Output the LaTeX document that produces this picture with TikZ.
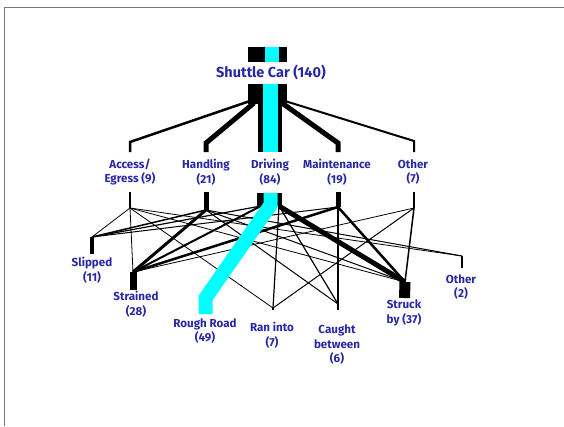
\documentclass[tikz,border=0pt]{standalone}
\usepackage{fontspec}
\setsansfont{Fira Sans}
\usepackage{tikz}

\definecolor{labelblue}{RGB}{40,40,165}
\definecolor{framegray}{RGB}{120,120,120}
\definecolor{roadcyan}{RGB}{0,255,255}
\tikzset{
  lbl/.style={text=labelblue, font=\sffamily\bfseries\fontsize{11.6}{14.5}\selectfont, align=center, inner sep=0pt},
  lnk/.style={line width=#1, line cap=butt, line join=miter},
}

\begin{document}
\begin{tikzpicture}[x=1pt,y=-1pt]
  \useasboundingbox (0,0) rectangle (564,426);
  \draw[framegray, line width=1.5] (4.5,426) -- (4.5,7.5) -- (564,7.5);

  % top node
  \fill      (248,47) rectangle (287,62);
  \fill[roadcyan] (265,47) rectangle (279,62);
  \node[lbl, font=\sffamily\bfseries\fontsize{14.5}{17}\selectfont] (shuttle) at (271,72) {Shuttle Car (140)};
  \fill      (248,84) rectangle (287,104);
  \fill      (258,104) rectangle (282,152);
  \fill[roadcyan] (263,84) rectangle (278,152);
  \coordinate (barL) at (250,101);
  \coordinate (barR) at (285,101);

  % categories
  \coordinate (accU) at (130,152);  \coordinate (accD) at (130,208);
  \coordinate (hanU) at (206,152);  \coordinate (hanD) at (206,210);
  \coordinate (mntU) at (338,152);  \coordinate (mntD) at (338,207);
  \coordinate (othU) at (414,152);  \coordinate (othD) at (414,208);
  \coordinate (drvL) at (261,206);  \coordinate (drvR) at (279,206);

  \draw[lnk=2.5] (barL) -- (130,142) -- (accU);
  \draw[lnk=5]   (254,103) -- (206,143) -- (hanU);
  \draw[lnk=5]   (282,103) -- (338,143) -- (mntU);
  \draw[lnk=2]   (barR) -- (414,141) -- (othU);

  \node[lbl] (access) at (130,172) {Access/\\Egress (9)};
  \node[lbl] (handling) at (206,172) {Handling\\(21)};
  \node[lbl] (driving) at (270,172) {Driving\\(84)};
  \node[lbl] (maint) at (337,172) {Maintenance\\(19)};
  \node[lbl] (other) at (413,172) {Other\\(7)};

  \draw[lnk=2.5] (130,192) -- (accD);
  \draw[lnk=5]   (206,192) -- (hanD);
  \draw[lnk=5]   (338,192) -- (mntD);
  \draw[lnk=1.5] (414,192) -- (othD);
  \fill (257,193) rectangle (282,206);

  % outcomes
  \coordinate (slp) at (92,237);
  \coordinate (str) at (133,272);
  \coordinate (ran) at (273,308);
  \coordinate (cgt) at (338,304);
  \coordinate (stk) at (405,282);
  \coordinate (oth2) at (462,256);

  % links
  \draw[lnk=0.8] (accD) -- (slp);
  \draw[lnk=0.8] (accD) -- (str);
  \draw[lnk=0.8] (accD) -- (stk);
  \draw[lnk=0.8] (accD) -- (oth2);
  \draw[lnk=0.8] (accD) -- (ran);
  \draw[lnk=1.5] (hanD) -- (slp);
  \draw[lnk=3]   (hanD) -- (str);
  \draw[lnk=1]   (hanD) -- (stk);
  \draw[lnk=1]   (hanD) -- (oth2);
  \draw[lnk=1]   (hanD) -- (cgt);
  \draw[lnk=1.2] (drvL) -- (slp);
  \draw[lnk=2]   (drvL) -- (str);
  \draw[lnk=5]   (drvR) -- (stk);
  \draw[lnk=1.2] (drvR) -- (ran);
  \draw[lnk=1.2] (drvR) -- (cgt);
  \draw[lnk=1]   (mntD) -- (slp);
  \draw[lnk=2.5] (mntD) -- (str);
  \draw[lnk=2.5] (mntD) -- (stk);
  \draw[lnk=1.2] (mntD) -- (cgt);
  \draw[lnk=1.5] (othD) -- (stk);
  \draw[lnk=1]   (othD) -- (ran);
  \draw[lnk=0.8] (othD) -- (str);

  \draw[lnk=14, roadcyan] (270.5,193) -- (270.5,205) -- (205.5,298) -- (205.5,314);

  \draw[lnk=4]   (slp) -- (92,254);
  \draw[lnk=7]   (str) -- (133,290);
  \draw[lnk=1.2] (ran) -- (273,310);
  \draw[lnk=1.2] (cgt) -- (338,310);
  \draw[lnk=11]  (stk) -- (404.5,298);
  \draw[lnk=1.2] (oth2) -- (462,268);

  \node[lbl] (slipped) at (92,270) {Slipped\\(11)};
  \node[lbl] (strained) at (136,304) {Strained\\(28)};
  \node[lbl] (rough) at (205,331) {Rough Road\\(49)};
  \node[lbl] (raninto) at (272,335) {Ran into\\(7)};
  \node[lbl] (caught) at (337,345) {Caught\\between\\(6)};
  \node[lbl] (struck) at (404,313) {Struck\\by (37)};
  \node[lbl] (other2) at (461,287) {Other\\(2)};
\end{tikzpicture}
\end{document}
